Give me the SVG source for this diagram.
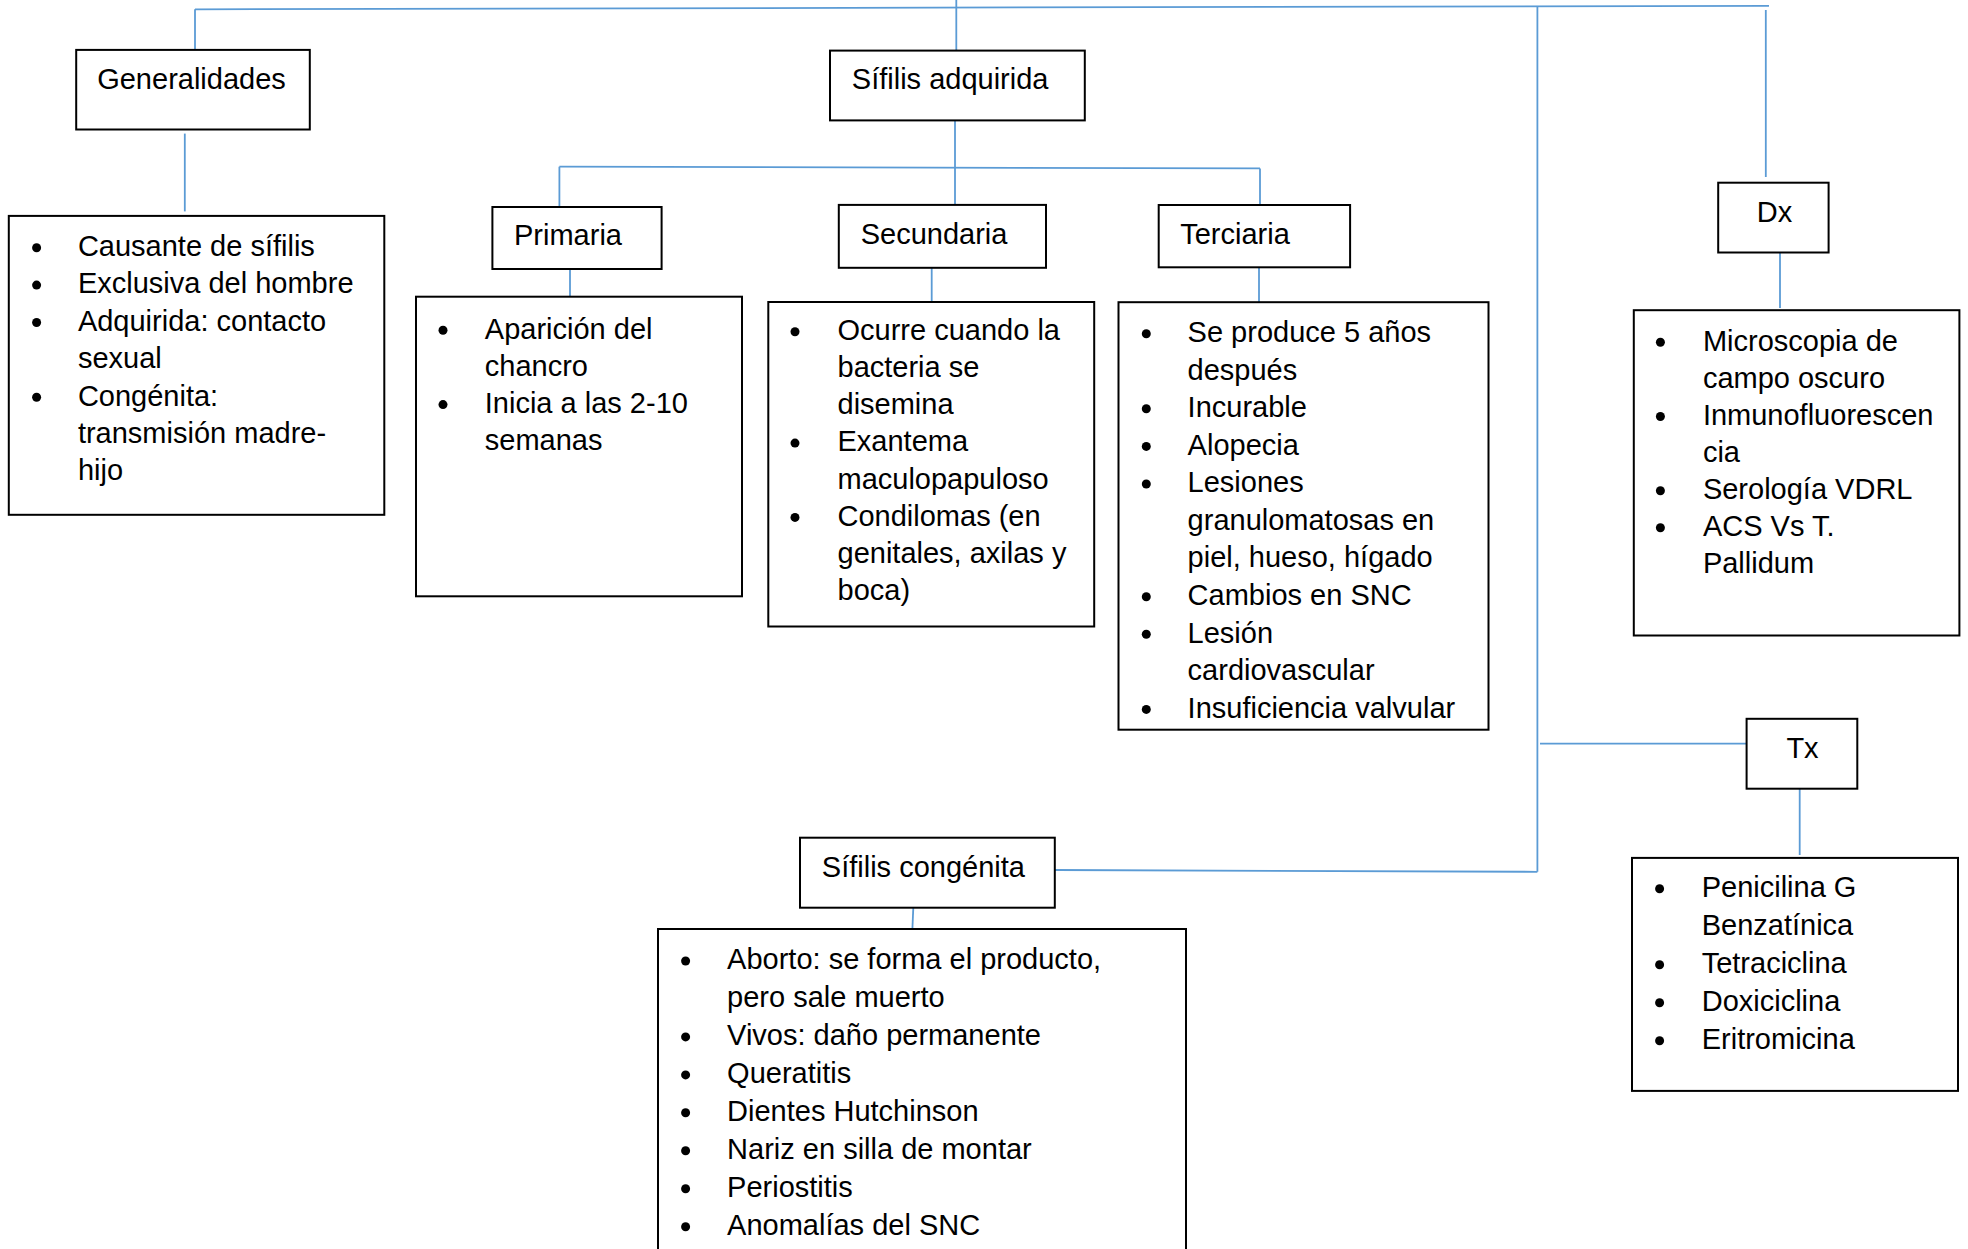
<svg xmlns="http://www.w3.org/2000/svg" width="1968" height="1249" viewBox="0 0 1968 1249">
<style>
  .box{fill:#fff;stroke:#000;stroke-width:2}
  .t{font-family:"Liberation Sans",Arial,sans-serif;font-size:29px;fill:#000}
  .b{fill:#000}
  .c line{stroke:#5B9BD5;stroke-width:1.8;fill:none}
</style>
<rect width="1968" height="1249" fill="#fff"/>
<g id="connectors" class="c">
  <line x1="195" y1="9.3" x2="1769" y2="5.8"/>
  <line x1="195" y1="9.3" x2="195" y2="50"/>
  <line x1="956.3" y1="0" x2="956.3" y2="50.6"/>
  <line x1="1537.4" y1="6" x2="1537.4" y2="871.8"/>
  <line x1="1765.8" y1="10" x2="1765.8" y2="177"/>
  <line x1="184.8" y1="133.6" x2="184.8" y2="211.4"/>
  <line x1="955" y1="120.4" x2="955" y2="204.9"/>
  <line x1="559.4" y1="166.7" x2="1260" y2="168.4"/>
  <line x1="559.4" y1="166.7" x2="559.4" y2="207"/>
  <line x1="1260" y1="168.4" x2="1260" y2="205"/>
  <line x1="570" y1="269" x2="570" y2="296.7"/>
  <line x1="931.7" y1="267.8" x2="931.7" y2="302"/>
  <line x1="1259" y1="267.3" x2="1259" y2="302.2"/>
  <line x1="1780" y1="247" x2="1780" y2="308"/>
  <line x1="1540" y1="743.7" x2="1746.6" y2="743.7"/>
  <line x1="1799.7" y1="788.7" x2="1799.7" y2="855"/>
  <line x1="1054.8" y1="870" x2="1537.4" y2="871.8"/>
  <line x1="913.3" y1="907.7" x2="912.4" y2="929"/>
</g>

<g id="generalidades">
  <rect class="box" x="76.2" y="49.9" width="233.6" height="79.6"/>
  <text class="t" x="97.2" y="88.8">Generalidades</text>
</g>
<g id="generalidades-lista">
  <rect class="box" x="8.8" y="215.9" width="375.5" height="298.9"/>
  <circle class="b" cx="36.6" cy="247.7" r="4.5"/>
  <circle class="b" cx="36.6" cy="285.1" r="4.5"/>
  <circle class="b" cx="36.6" cy="322.5" r="4.5"/>
  <circle class="b" cx="36.6" cy="397.3" r="4.5"/>
  <text class="t" x="77.9" y="256">Causante de sífilis</text>
  <text class="t" x="77.9" y="293.4">Exclusiva del hombre</text>
  <text class="t" x="77.9" y="330.8">Adquirida: contacto</text>
  <text class="t" x="77.9" y="368.2">sexual</text>
  <text class="t" x="77.9" y="405.6">Congénita:</text>
  <text class="t" x="77.9" y="443">transmisión madre-</text>
  <text class="t" x="77.9" y="480.4">hijo</text>
</g>

<g id="sifilis-adquirida">
  <rect class="box" x="830" y="50.6" width="254.8" height="69.8"/>
  <text class="t" x="851.8" y="89">Sífilis adquirida</text>
</g>

<g id="primaria">
  <rect class="box" x="492.4" y="207" width="169.2" height="62"/>
  <text class="t" x="514" y="244.7">Primaria</text>
</g>
<g id="primaria-lista">
  <rect class="box" x="416" y="296.7" width="326" height="299.6"/>
  <circle class="b" cx="443" cy="330.2" r="4.5"/>
  <circle class="b" cx="443" cy="404.6" r="4.5"/>
  <text class="t" x="484.8" y="338.5">Aparición del</text>
  <text class="t" x="484.8" y="375.7">chancro</text>
  <text class="t" x="484.8" y="412.9">Inicia a las 2-10</text>
  <text class="t" x="484.8" y="450.1">semanas</text>
</g>

<g id="secundaria">
  <rect class="box" x="838.8" y="204.9" width="207.2" height="62.9"/>
  <text class="t" x="860.7" y="243.7">Secundaria</text>
</g>
<g id="secundaria-lista">
  <rect class="box" x="768.3" y="302" width="325.9" height="324.5"/>
  <circle class="b" cx="795" cy="331.7" r="4.5"/>
  <circle class="b" cx="795" cy="443.1" r="4.5"/>
  <circle class="b" cx="795" cy="517.4" r="4.5"/>
  <text class="t" x="837.5" y="340">Ocurre cuando la</text>
  <text class="t" x="837.5" y="377.1">bacteria se</text>
  <text class="t" x="837.5" y="414.3">disemina</text>
  <text class="t" x="837.5" y="451.4">Exantema</text>
  <text class="t" x="837.5" y="488.6">maculopapuloso</text>
  <text class="t" x="837.5" y="525.7">Condilomas (en</text>
  <text class="t" x="837.5" y="562.8">genitales, axilas y</text>
  <text class="t" x="837.5" y="600">boca)</text>
</g>

<g id="terciaria">
  <rect class="box" x="1158.7" y="205" width="191.4" height="62.3"/>
  <text class="t" x="1180.2" y="244.1">Terciaria</text>
</g>
<g id="terciaria-lista">
  <rect class="box" x="1118.5" y="302.2" width="370" height="427.5"/>
  <circle class="b" cx="1146.3" cy="333.7" r="4.5"/>
  <circle class="b" cx="1146.3" cy="408.8" r="4.5"/>
  <circle class="b" cx="1146.3" cy="446.4" r="4.5"/>
  <circle class="b" cx="1146.3" cy="484" r="4.5"/>
  <circle class="b" cx="1146.3" cy="596.7" r="4.5"/>
  <circle class="b" cx="1146.3" cy="634.3" r="4.5"/>
  <circle class="b" cx="1146.3" cy="709.4" r="4.5"/>
  <text class="t" x="1187.6" y="342">Se produce 5 años</text>
  <text class="t" x="1187.6" y="379.6">después</text>
  <text class="t" x="1187.6" y="417.1">Incurable</text>
  <text class="t" x="1187.6" y="454.7">Alopecia</text>
  <text class="t" x="1187.6" y="492.3">Lesiones</text>
  <text class="t" x="1187.6" y="529.9">granulomatosas en</text>
  <text class="t" x="1187.6" y="567.4">piel, hueso, hígado</text>
  <text class="t" x="1187.6" y="605">Cambios en SNC</text>
  <text class="t" x="1187.6" y="642.6">Lesión</text>
  <text class="t" x="1187.6" y="680.1">cardiovascular</text>
  <text class="t" x="1187.6" y="717.7">Insuficiencia valvular</text>
</g>

<g id="dx">
  <rect class="box" x="1718.2" y="182.7" width="110.4" height="69.8"/>
  <text class="t" x="1756.7" y="221.8">Dx</text>
</g>
<g id="dx-lista">
  <rect class="box" x="1633.8" y="310.2" width="325.6" height="325.3"/>
  <circle class="b" cx="1660.4" cy="342.3" r="4.5"/>
  <circle class="b" cx="1660.4" cy="416.5" r="4.5"/>
  <circle class="b" cx="1660.4" cy="490.7" r="4.5"/>
  <circle class="b" cx="1660.4" cy="527.8" r="4.5"/>
  <text class="t" x="1702.9" y="350.6">Microscopia de</text>
  <text class="t" x="1702.9" y="387.7">campo oscuro</text>
  <text class="t" x="1702.9" y="424.8">Inmunofluorescen</text>
  <text class="t" x="1702.9" y="461.9">cia</text>
  <text class="t" x="1702.9" y="499">Serología VDRL</text>
  <text class="t" x="1702.9" y="536.1">ACS Vs T.</text>
  <text class="t" x="1702.9" y="573.2">Pallidum</text>
</g>

<g id="tx">
  <rect class="box" x="1746.6" y="718.8" width="110.7" height="69.9"/>
  <text class="t" x="1786.4" y="757.7">Tx</text>
</g>
<g id="tx-lista">
  <rect class="box" x="1632" y="857.9" width="326" height="233"/>
  <circle class="b" cx="1659.6" cy="888.7" r="4.5"/>
  <circle class="b" cx="1659.6" cy="964.7" r="4.5"/>
  <circle class="b" cx="1659.6" cy="1002.7" r="4.5"/>
  <circle class="b" cx="1659.6" cy="1040.7" r="4.5"/>
  <text class="t" x="1701.7" y="897">Penicilina G</text>
  <text class="t" x="1701.7" y="935">Benzatínica</text>
  <text class="t" x="1701.7" y="973">Tetraciclina</text>
  <text class="t" x="1701.7" y="1011">Doxiciclina</text>
  <text class="t" x="1701.7" y="1049">Eritromicina</text>
</g>

<g id="sifilis-congenita">
  <rect class="box" x="800" y="837.7" width="254.8" height="70"/>
  <text class="t" x="821.8" y="876.7">Sífilis congénita</text>
</g>
<g id="congenita-lista">
  <rect class="box" x="658" y="929" width="528" height="340"/>
  <circle class="b" cx="685.6" cy="961" r="4.5"/>
  <circle class="b" cx="685.6" cy="1036.9" r="4.5"/>
  <circle class="b" cx="685.6" cy="1074.9" r="4.5"/>
  <circle class="b" cx="685.6" cy="1112.8" r="4.5"/>
  <circle class="b" cx="685.6" cy="1150.8" r="4.5"/>
  <circle class="b" cx="685.6" cy="1188.7" r="4.5"/>
  <circle class="b" cx="685.6" cy="1226.7" r="4.5"/>
  <text class="t" x="727.1" y="969.3">Aborto: se forma el producto,</text>
  <text class="t" x="727.1" y="1007.3">pero sale muerto</text>
  <text class="t" x="727.1" y="1045.2">Vivos: daño permanente</text>
  <text class="t" x="727.1" y="1083.2">Queratitis</text>
  <text class="t" x="727.1" y="1121.1">Dientes Hutchinson</text>
  <text class="t" x="727.1" y="1159.1">Nariz en silla de montar</text>
  <text class="t" x="727.1" y="1197">Periostitis</text>
  <text class="t" x="727.1" y="1235">Anomalías del SNC</text>
</g>
</svg>
